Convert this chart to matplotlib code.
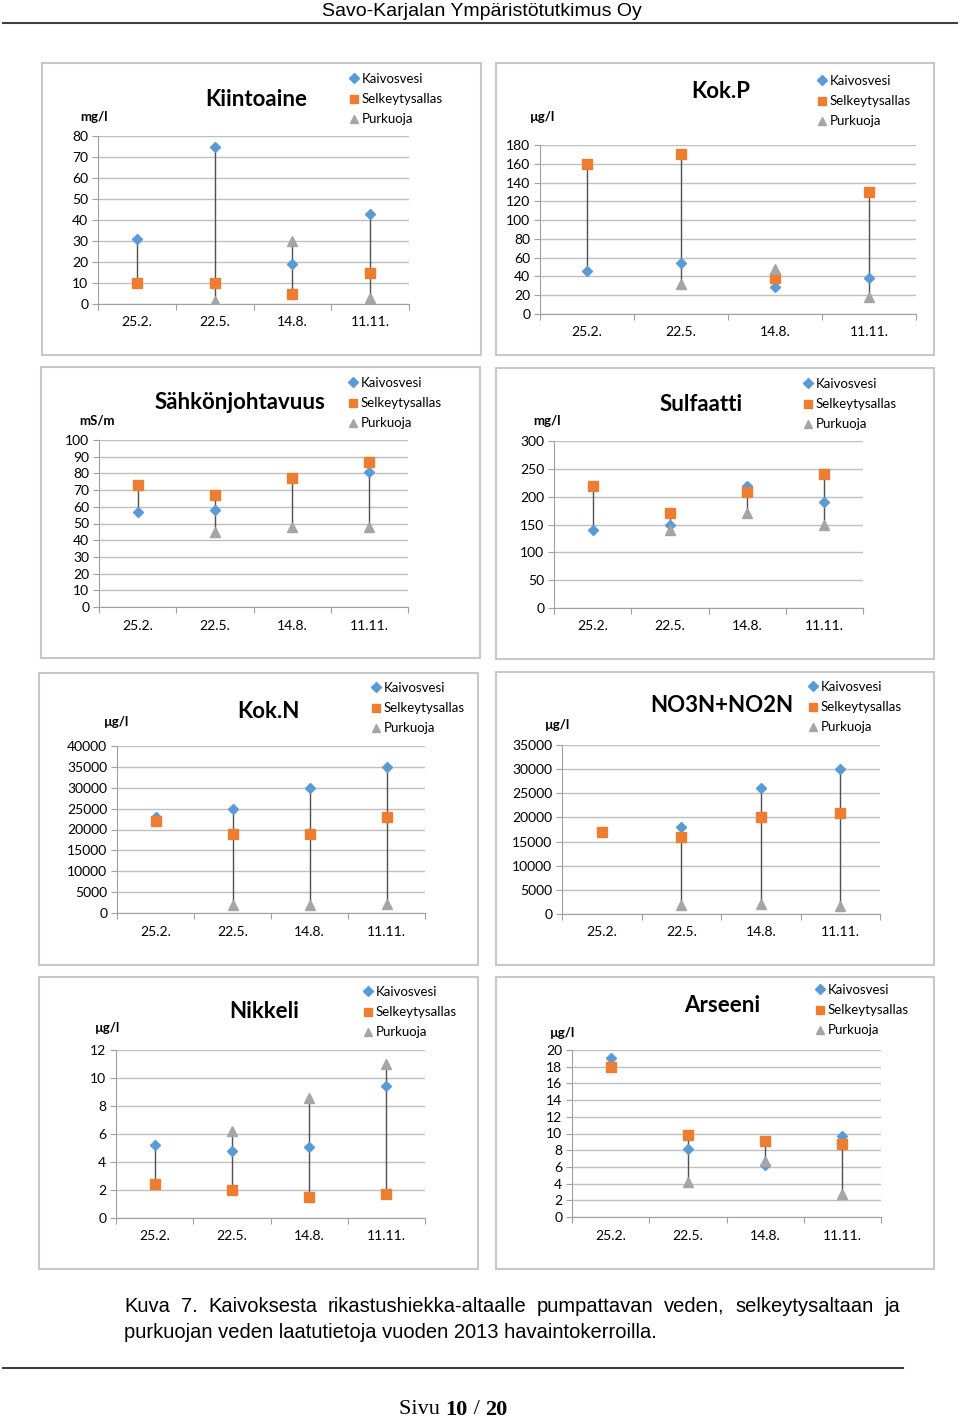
import numpy as np
import matplotlib
matplotlib.use('Agg')
import matplotlib.pyplot as plt
from matplotlib.patches import Rectangle
from matplotlib.lines import Line2D

nan = np.nan

dates = ['25.2.', '22.5.', '14.8.', '11.11.']
series_names = ['Kaivosvesi', 'Selkeytysallas', 'Purkuoja']

# values per panel: Kaivosvesi, Selkeytysallas, Purkuoja
kiinto_k = [31, 75, 19, 43]
kiinto_s = [10, 10, 5, 15]
kiinto_p = [nan, 1.5, 30, 3]

kokp_k = [46, 54, 29, 38]
kokp_s = [160, 170, 38, 130]
kokp_p = [nan, 32, 48, 18]

sahko_k = [57, 58, nan, 81]
sahko_s = [73, 67, 77, 87]
sahko_p = [nan, 45, 48, 48]

sulf_k = [140, 150, 220, 190]
sulf_s = [220, 170, 208, 240]
sulf_p = [nan, 140, 170, 150]

kokn_k = [23000, 25000, 30000, 35000]
kokn_s = [22000, 19000, 19000, 23000]
kokn_p = [nan, 2000, 2000, 2200]

no3_k = [nan, 18000, 26000, 30000]
no3_s = [17000, 16000, 20000, 21000]
no3_p = [nan, 1800, 2000, 1700]

nikkeli_k = [5.2, 4.8, 5.1, 9.4]
nikkeli_s = [2.4, 2.0, 1.5, 1.7]
nikkeli_p = [nan, 6.2, 8.6, 11]

arseeni_k = [19, 8.2, 6.2, 9.7]
arseeni_s = [18, 9.8, 9.1, 8.8]
arseeni_p = [nan, 4.2, 6.7, 2.8]

W, H = 960, 1420
fig = plt.figure(figsize=(W / 100, H / 100), dpi=100)
FONT = ['Lato', 'DejaVu Sans']
plt.rcParams['font.family'] = FONT

colors = ['#5B9BD5', '#ED7D31', '#A5A5A5']
markers = ['D', 's', '^']
msizes = [5.5, 7, 6.5]


def px_rect(l, t, r, b):
    return [l / W, 1 - b / H, (r - l) / W, (b - t) / H]


def fx(x):
    return x / W


def fy(y):
    return 1 - y / H


panels = [
    # frame, axes box, title, title pos, unit, unit pos, legend pos, ymax, ystep, data
    ((42, 63, 481, 355), (98, 136, 409, 304), 'Kiintoaine', (256, 100), 'mg/l', (80, 117), (350, 73),
     80, 10, (kiinto_k, kiinto_s, kiinto_p)),
    ((496, 63, 934, 355), (540, 145, 916, 314), 'Kok.P', (721, 92), 'µg/l', (530, 117), (818, 75),
     180, 20, (kokp_k, kokp_s, kokp_p)),
    ((41, 367, 480, 658), (99, 440, 408, 607), 'Sähkönjohtavuus', (240, 403), 'mS/m', (79, 420), (349, 377),
     100, 10, (sahko_k, sahko_s, sahko_p)),
    ((496, 368, 934, 659), (554, 441, 863, 608), 'Sulfaatti', (701, 404), 'mg/l', (533, 421), (804, 378),
     300, 50, (sulf_k, sulf_s, sulf_p)),
    ((39, 673, 478, 965), (117, 746, 425, 913), 'Kok.N', (268, 712), 'µg/l', (104, 722), (372, 682),
     40000, 5000, (kokn_k, kokn_s, kokn_p)),
    ((496, 672, 934, 965), (562, 745, 880, 914), 'NO3N+NO2N', (722, 706), 'µg/l', (545, 725), (809, 681),
     35000, 5000, (no3_k, no3_s, no3_p)),
    ((39, 977, 478, 1269), (116, 1050, 425, 1218), 'Nikkeli', (264, 1011), 'µg/l', (95, 1028), (364, 986),
     12, 2, (nikkeli_k, nikkeli_s, nikkeli_p)),
    ((496, 977, 934, 1269), (572, 1050, 881, 1217), 'Arseeni', (722, 1005), 'µg/l', (550, 1033), (816, 984),
     20, 2, (arseeni_k, arseeni_s, arseeni_p)),
]

x = np.arange(len(dates)) + 0.5

for frame, box, title, tpos, unit, upos, lpos, ymax, ystep, data in panels:
    l, t, r, b = frame
    fig.patches.append(Rectangle((fx(l), fy(b)), (r - l) / W, (b - t) / H, transform=fig.transFigure,
                                 fill=False, edgecolor='#C8C8C8', linewidth=1.5))
    ax = fig.add_axes(px_rect(*box))
    arr = np.array(data, dtype=float)
    lo = np.nanmin(arr, axis=0)
    hi = np.nanmax(arr, axis=0)
    ax.vlines(x, lo, hi, color='#505050', linewidth=1.0, zorder=2)
    for vals, c, m, ms, name in zip(data, colors, markers, msizes, series_names):
        ax.plot(x, vals, linestyle='none', marker=m, markersize=ms, color=c,
                markeredgecolor=c, zorder=3, label=name)
    ax.set_xlim(0, len(dates))
    ax.set_ylim(0, ymax)
    ax.set_yticks(np.arange(0, ymax + ystep / 2, ystep))
    ax.set_xticks(np.arange(0, len(dates) + 1))
    ax.set_xticklabels([])
    ax.set_xticks(x, minor=True)
    ax.set_xticklabels(dates, minor=True)
    ax.tick_params(axis='x', which='major', length=4, color='#A0A0A0', direction='out')
    ax.tick_params(axis='x', which='minor', length=0, pad=9, labelsize=10)
    ax.tick_params(axis='y', length=4, color='#A0A0A0', labelsize=10, pad=3)
    ax.grid(axis='y', color='#BFBFBF', linewidth=1.0)
    ax.set_axisbelow(True)
    for s in ['top', 'right']:
        ax.spines[s].set_visible(False)
    ax.spines['left'].set_color('#A0A0A0')
    ax.spines['bottom'].set_color('#A0A0A0')
    fig.text(fx(tpos[0]), fy(tpos[1]), title, fontsize=16, fontweight='bold', ha='center', va='center')
    fig.text(fx(upos[0]), fy(upos[1]), unit, fontsize=9.5, fontweight='bold', ha='left', va='center')
    leg_handles = [Line2D([], [], linestyle='none', marker=m, markersize=ms * 0.85, color=c, markeredgecolor=c)
                   for c, m, ms in zip(colors, markers, msizes)]
    fig.legend(leg_handles, series_names, loc='upper left', bbox_to_anchor=(fx(lpos[0]), fy(lpos[1])),
               frameon=False, fontsize=9.5, handlelength=0.6, handletextpad=0.3, labelspacing=0.62,
               borderpad=0, borderaxespad=0)

# page header
NARROW = ['Liberation Sans Narrow', 'Liberation Sans', 'DejaVu Sans']
fig.text(fx(482), fy(16), 'Savo-Karjalan Ympäristötutkimus Oy', family=NARROW, fontsize=14,
         ha='center', va='baseline')
fig.add_artist(Line2D([fx(3), fx(957)], [fy(23), fy(23)], color='#404040', linewidth=1.5))

# caption, first line justified
line1 = 'Kuva 7. Kaivoksesta rikastushiekka-altaalle pumpattavan veden, selkeytysaltaan ja'.split()
line2 = 'purkuojan veden laatutietoja vuoden 2013 havaintokerroilla.'
renderer = fig.canvas.get_renderer()
texts = [fig.text(0, fy(1306), w, family=NARROW, fontsize=14.5, ha='left', va='center') for w in line1]
widths = [tx.get_window_extent(renderer).width for tx in texts]
gap = (776 - sum(widths)) / (len(texts) - 1)
pos = 124
for tx, w in zip(texts, widths):
    tx.set_x(fx(pos))
    pos += w + gap
fig.text(fx(124), fy(1333), line2, family=NARROW, fontsize=14.5, ha='left', va='center')
fig.add_artist(Line2D([fx(3), fx(903)], [fy(1368), fy(1368)], color='#404040', linewidth=1.5))

# page number
SERIF = ['Liberation Serif', 'DejaVu Serif']
pn = [('Sivu ', 'normal'), ('10', 'bold'), (' / ', 'normal'), ('20', 'bold')]
pts = [fig.text(0, fy(1410), s, family=SERIF, fontsize=16, fontweight=wt, ha='left', va='center')
       for s, wt in pn]
pw = [tx.get_window_extent(renderer).width for tx in pts]
pos = 453 - sum(pw) / 2
for tx, w in zip(pts, pw):
    tx.set_x(fx(pos))
    pos += w

fig.savefig('out.png', dpi=100)
